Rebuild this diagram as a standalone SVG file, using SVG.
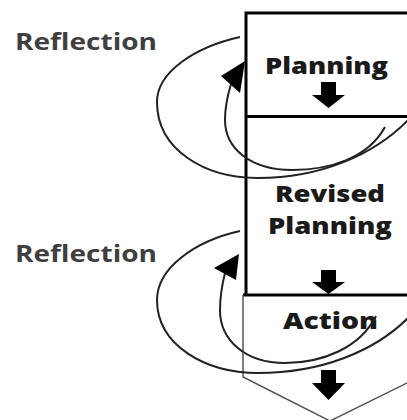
<svg xmlns="http://www.w3.org/2000/svg" width="407" height="420" viewBox="0 0 407 420">
<style>
.lbl{font-family:"Open Sans","Liberation Sans",sans-serif;font-weight:800;fill:#1a1a1a;font-size:23px}
.ref{font-family:"Open Sans","Liberation Sans",sans-serif;font-weight:bold;fill:#3f3f3f;font-size:23px}
.edge{fill:none;stroke:#000;stroke-width:3}
.thin{fill:none;stroke:#555;stroke-width:1.5}
.loop{fill:none;stroke:#222;stroke-width:2}
.blk{fill:#000}
</style>
<rect width="407" height="420" fill="#fff"/>
<g id="planning">
<path class="edge" d="M246,13 H409 M246,11.5 V296"/>
<text class="lbl" x="265" y="74" textLength="123" lengthAdjust="spacingAndGlyphs">Planning</text>
<path class="blk" d="M321,82 H336 V95 H345 L328.5,108 L312,95 H321 Z"/>
</g>
<g id="revised">
<path class="edge" d="M246,116.5 H409"/>
<text class="lbl" x="275" y="202" textLength="110" lengthAdjust="spacingAndGlyphs">Revised</text>
<text class="lbl" x="268" y="234" textLength="124" lengthAdjust="spacingAndGlyphs">Planning</text>
<path class="blk" d="M321,270 H336 V282 H345 L328.5,294 L312,282 H321 Z"/>
</g>
<g id="action">
<path class="edge" d="M243,295 H409"/>
<path class="thin" d="M243,295 V377 L330,421 L409,382"/>
<text class="lbl" x="283" y="329" textLength="95" lengthAdjust="spacingAndGlyphs">Action</text>
<path class="blk" d="M321,370 H336 V383 H345 L328.5,400 L312,383 H321 Z"/>
</g>
<g id="reflection1">
<text class="ref" x="15" y="50" textLength="142" lengthAdjust="spacingAndGlyphs">Reflection</text>
</g>
<g id="reflection2">
<text class="ref" x="15" y="262" textLength="142" lengthAdjust="spacingAndGlyphs">Reflection</text>
</g>
<g id="connectors">
<path class="loop" d="M240,37 C195,47 157,72 157,102 C157,150 205,178 258,178 C320,178 375,155 410,118"/>
<path class="loop" d="M385,127 C368,158 330,170 292,170 C250,170 225,148 225,120 C225,105 228,94 231,84"/>
<path class="blk" d="M245,61 L221,76 L240,93 Z"/>
<path class="loop" d="M240,231 C195,241 157,268 157,300 C157,345 205,373 258,373 C320,373 375,352 410,316"/>
<path class="loop" d="M376,316 C360,348 322,363 285,363 C245,363 220,340 220,310 C220,296 222,285 225,273"/>
<path class="blk" d="M239,254 L214,268 L236,280 Z"/>
</g>
</svg>
